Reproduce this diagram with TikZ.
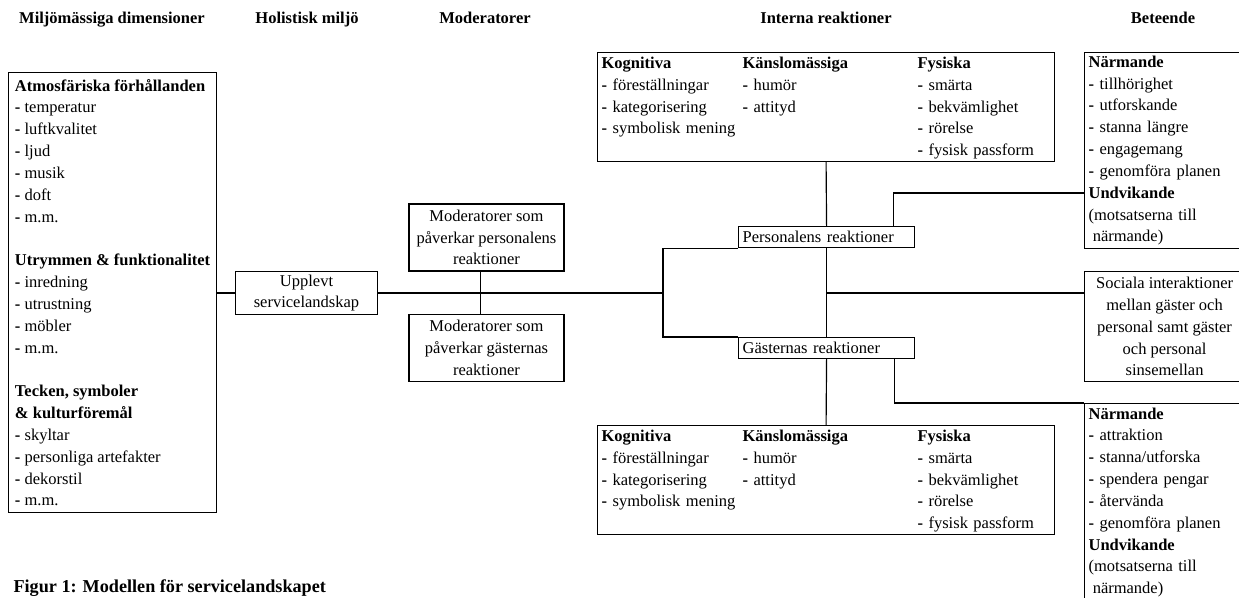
\documentclass[tikz,border=0pt]{standalone}
\usepackage{fontspec}
\setmainfont{Liberation Serif}
\usetikzlibrary{matrix}
\newcommand{\diafont}{\fontsize{9.9}{13.1}\selectfont}
\newcommand{\bul}{\textbf{-} }

\begin{document}
\begin{tikzpicture}[x=0.6pt,y=-0.6pt,line width=0.7pt,
			every node/.style={font=\diafont},
			head/.style={font=\diafont\bfseries,anchor=base},
			box/.style={draw,inner sep=0pt},
			reakbox/.style={box,anchor=north west,align=left,text width=100.8pt,inner xsep=2.4pt,minimum height=12.6pt},
			listbox/.style={box,anchor=north west,align=left,text width=105pt,inner xsep=2.4pt},
			intern/.style={matrix of nodes,draw,nodes in empty cells,anchor=north west,
				inner xsep=2.4pt,inner ysep=0pt,row sep=0pt,column sep=0pt,
				nodes={anchor=base west,inner sep=0pt,text height=9.6pt,text depth=3.48pt,align=left},
				row 1/.style={nodes={font=\diafont\bfseries}},
				column 1/.style={nodes={text width=84.6pt}},
				column 2/.style={nodes={text width=105pt}},
				column 3/.style={nodes={text width=79.8pt}}}]
			\useasboundingbox (0,0) rectangle (1239,597);
			
			% rubriker
			\node[head] (hMiljo) at (112,23) {Miljömässiga dimensioner};
			\node[head] (hHolist) at (307,23) {Holistisk miljö};
			\node[head] (hModer) at (485,23) {Moderatorer};
			\node[head] (hIntern) at (826,23) {Interna reaktioner};
			\node[head] (hBeteende) at (1163,23) {Beteende};
			
			\node[box,anchor=north west,align=left,minimum width=124.8pt,minimum height=264pt] (miljo) at (8,72) {
				\textbf{Atmosfäriska förhållanden}\\
				\bul temperatur\\
				\bul luftkvalitet\\
				\bul ljud\\
				\bul musik\\
				\bul doft\\
				\bul m.m.\\[13.1pt]
				\textbf{Utrymmen \& funktionalitet}\\
				\bul inredning\\
				\bul utrustning\\
				\bul möbler\\
				\bul m.m.\\[13.1pt]
				\textbf{Tecken, symboler}\\
				\textbf{\& kulturföremål}\\
				\bul skyltar\\
				\bul personliga artefakter\\
				\bul dekorstil\\
				\bul m.m.};
			
			\node[box,align=center,minimum width=85.2pt,minimum height=25.8pt] (upplevt) at (306.5,293) {Upplevt\\servicelandskap};
			\node[box,align=center,minimum width=93pt,minimum height=40.2pt] (modP) at (486.5,237.5) {Moderatorer som\\påverkar personalens\\reaktioner};
			\node[box,align=center,minimum width=93pt,minimum height=40.2pt] (modG) at (486.5,348) {Moderatorer som\\påverkar gästernas\\reaktioner};
			
			\node[reakbox] (persR) at (738,226) {Personalens reaktioner};
			\node[reakbox] (gastR) at (738,337) {Gästernas reaktioner};
			
			\matrix[intern] (intP) at (597,52)
			{
				Kognitiva & Känslomässiga & Fysiska \\
				\bul föreställningar & \bul humör & \bul smärta \\
				\bul kategorisering & \bul attityd & \bul bekvämlighet \\
				\bul symbolisk mening & & \bul rörelse \\
				& & \bul fysisk passform \\
			};
			\matrix[intern] (intG) at (597,425)
			{
				Kognitiva & Känslomässiga & Fysiska \\
				\bul föreställningar & \bul humör & \bul smärta \\
				\bul kategorisering & \bul attityd & \bul bekvämlighet \\
				\bul symbolisk mening & & \bul rörelse \\
				& & \bul fysisk passform \\
			};
			
			\node[listbox,minimum height=117.6pt] (beteP) at (1084,52) {
				\textbf{Närmande}\\
				\bul tillhörighet\\
				\bul utforskande\\
				\bul stanna längre\\
				\bul engagemang\\
				\bul genomföra planen\\
				\textbf{Undvikande}\\
				(motsatserna till\\
				\hspace{2.5pt}närmande)};
			\node[box,anchor=north west,inner xsep=2.4pt,minimum height=66pt] (socInt) at (1084,271) {\parbox{91.2pt}{\centering Sociala interaktioner\\mellan gäster och\\personal samt gäster\\och personal\\sinsemellan}\hspace{12pt}};
			\node[listbox,inner ysep=2.4pt] (beteG) at (1084,403) {
				\textbf{Närmande}\\
				\bul attraktion\\
				\bul stanna/utforska\\
				\bul spendera pengar\\
				\bul återvända\\
				\bul genomföra planen\\
				\textbf{Undvikande}\\
				(motsatserna till\\
				\hspace{2.5pt}närmande)};
			
			\node[anchor=base west,inner sep=0pt,font=\fontsize{10.9}{13}\selectfont\bfseries] (caption) at (13,592) {Figur 1: Modellen för servicelandskapet};
			
			\coordinate (split) at (663,293);
			\coordinate (undv) at (1084,193);
			
			\draw (miljo.east |- upplevt.west) -- (upplevt.west);
			\draw (upplevt.east) -- (split);
			\draw ([xshift=-3.6pt]modP.south) -- ([xshift=-3.6pt]modG.north);
			\draw (persR.south west) -| (split) |- (gastR.north west);
			\draw (intP.south) -- (persR.north);
			\draw (persR.south) -- (gastR.north);
			\draw (gastR.south) -- (intG.north);
			\draw (persR.south |- split) -- (split -| socInt.west);
			\draw ([xshift=-13.2pt]persR.north east) |- (undv);
			\draw ([xshift=-12.6pt]gastR.south east) |- (beteG.north west);
		\end{tikzpicture}
\end{document}
